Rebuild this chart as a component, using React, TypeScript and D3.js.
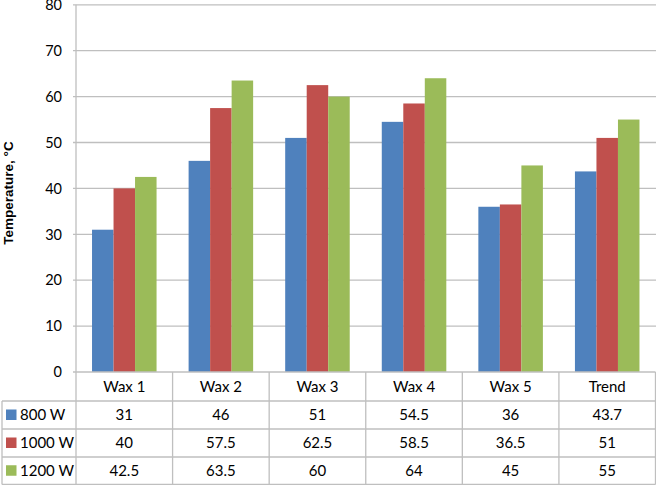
import React from "react";
import * as d3 from "d3";

const categories = ["Wax 1", "Wax 2", "Wax 3", "Wax 4", "Wax 5", "Trend"];
const seriesNames = ["800 W", "1000 W", "1200 W"];
const s800 = [31, 46, 51, 54.5, 36, 43.7];
const s1000 = [40, 57.5, 62.5, 58.5, 36.5, 51];
const s1200 = [42.5, 63.5, 60, 64, 45, 55];
const yTicks = [0, 10, 20, 30, 40, 50, 60, 70, 80];
const colors = ["#4F81BD", "#C0504D", "#9BBB59"];

const W = 656;
const H = 485;
const left = 76;
const right = 655.5;
const top = 4.8;
const bottom = 372;
const rowH = [372, 401, 429, 457, 484.5];
const tableLeft = 2;

export default function App() {
  const series = [s800, s1000, s1200];
  const x = d3.scaleBand<string>().domain(categories).range([left, right]).paddingInner(0).paddingOuter(0);
  const inner = d3
    .scaleBand<string>()
    .domain(seriesNames)
    .range([0, x.bandwidth()])
    .paddingInner(0)
    .paddingOuter(0.745);
  const y = d3.scaleLinear().domain([0, 80]).range([bottom, top]);
  const font = "Lato, 'Open Sans', sans-serif";
  const grid = "#BFBFBF";
  const fmt = (v: number) => String(v);

  return (
    <svg width={W} height={H} style={{ position: "absolute", left: 0, top: 0 }} fontFamily={font}>
      <rect width={W} height={H} fill="#fff" />
      {yTicks.map((t) => (
        <g key={t}>
          {t > 0 && <line x1={left - 3} x2={right + 1} y1={y(t)} y2={y(t)} stroke={grid} strokeWidth={1.3} />}
          <text x={62} y={y(t)} dy="0.36em" textAnchor="end" fontSize={14.5} fill="#000">
            {t}
          </text>
        </g>
      ))}
      {categories.map((c, i) => (
        <g key={c}>
          {series.map((s, j) => (
            <rect
              key={j}
              x={(x(c) as number) + (inner(seriesNames[j]) as number)}
              y={y(s[i])}
              width={inner.bandwidth()}
              height={y(0) - y(s[i])}
              fill={colors[j]}
            />
          ))}
        </g>
      ))}
      {/* y axis line */}
      <line x1={left} x2={left} y1={top} y2={rowH[4]} stroke={grid} strokeWidth={1.3} />
      {/* table horizontal lines */}
      <line x1={left - 3} x2={right} y1={rowH[0]} y2={rowH[0]} stroke={grid} strokeWidth={1.3} />
      {rowH.slice(1).map((r, k) => (
        <line key={k} x1={tableLeft} x2={right} y1={r} y2={r} stroke={grid} strokeWidth={1.3} />
      ))}
      <line x1={tableLeft} x2={tableLeft} y1={rowH[1]} y2={rowH[4]} stroke={grid} strokeWidth={1.3} />
      {categories.map((c) => (
        <line
          key={"v" + c}
          x1={(x(c) as number) + x.bandwidth()}
          x2={(x(c) as number) + x.bandwidth()}
          y1={rowH[0]}
          y2={rowH[4]}
          stroke={grid}
          strokeWidth={1.3}
        />
      ))}
      {categories.map((c) => (
        <text
          key={"h" + c}
          x={(x(c) as number) + x.bandwidth() / 2}
          y={(rowH[0] + rowH[1]) / 2}
          dy="0.36em"
          textAnchor="middle"
          fontSize={15}
        >
          {c}
        </text>
      ))}
      {series.map((s, j) => (
        <g key={"row" + j}>
          <rect x={6} y={(rowH[j + 1] + rowH[j + 2]) / 2 - 5.5} width={10.5} height={10.5} fill={colors[j]} />
          <text x={20} y={(rowH[j + 1] + rowH[j + 2]) / 2} dy="0.36em" fontSize={15}>
            {seriesNames[j]}
          </text>
          {categories.map((c, i) => (
            <text
              key={c}
              x={(x(c) as number) + x.bandwidth() / 2}
              y={(rowH[j + 1] + rowH[j + 2]) / 2}
              dy="0.36em"
              textAnchor="middle"
              fontSize={15}
            >
              {fmt(s[i])}
            </text>
          ))}
        </g>
      ))}
      <text
        transform={`translate(${13},${193}) rotate(-90)`}
        textAnchor="middle"
        fontSize={13.5}
        fontWeight="bold"
        fontFamily="'Liberation Sans', Arial, sans-serif"
      >
        Temperature, °C
      </text>
    </svg>
  );
}
